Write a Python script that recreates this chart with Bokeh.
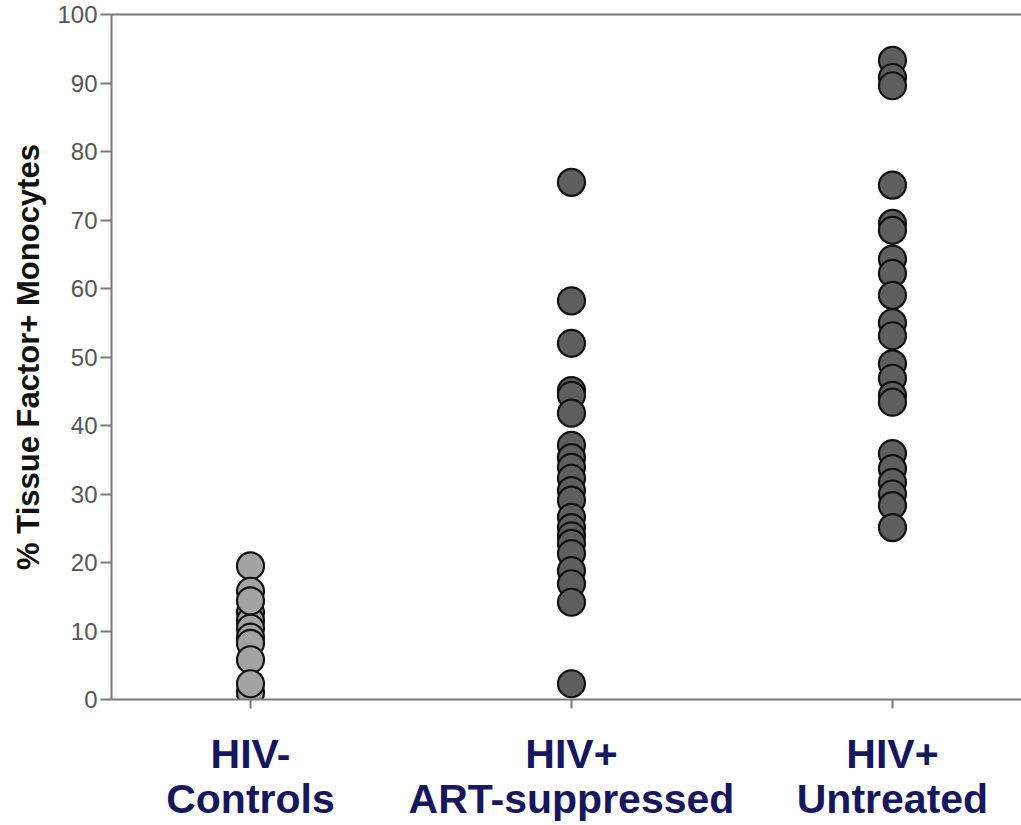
from bokeh.plotting import figure
from bokeh.models import Range1d, FixedTicker, LinearAxis, ColumnDataSource
from bokeh.embed import file_html
from bokeh.resources import INLINE

# Data
groups = ["HIV-\nControls", "HIV+\nART-suppressed", "HIV+\nUntreated"]
group_pos = [1, 2, 3]
controls = [19.5, 15.8, 12.7, 11.5, 10.4, 9.1, 8.2, 5.8, 1.0, 2.3, 14.4]
art_suppressed = [75.5, 58.2, 52.0, 45.1, 44.4, 41.8, 37.1, 35.3, 33.9, 32.3, 30.5,
                  29.1, 26.6, 25.1, 23.9, 22.8, 21.3, 18.8, 16.9, 14.2, 2.3]
untreated = [93.3, 90.8, 89.6, 75.1, 69.5, 68.5, 64.3, 62.2, 59.0, 55.0, 53.1,
             49.0, 46.9, 44.4, 43.4, 35.9, 33.7, 31.7, 30.0, 28.3, 25.1]
y_ticks = [0, 10, 20, 30, 40, 50, 60, 70, 80, 90, 100]
colors = ["#a3a3a3", "#5e5e5e", "#5e5e5e"]

p = figure(width=1021, height=825, output_backend="svg", toolbar_location=None,
           x_range=Range1d(0.567, 3.402), y_range=Range1d(0, 100),
           min_border_left=111, min_border_right=0, min_border_top=14,
           min_border_bottom=126, x_axis_type=None, y_axis_type=None)
p.grid.visible = False
p.outline_line_color = None
p.background_fill_color = "white"
p.border_fill_color = "white"

for pos, vals, col in zip(group_pos, [controls, art_suppressed, untreated], colors):
    src = ColumnDataSource(dict(x=[pos] * len(vals), y=vals))
    p.scatter("x", "y", source=src, size=27, fill_color=col,
              line_color="#111111", line_width=2.2)

axis_col = "#7a7a7a"

yaxis = LinearAxis(ticker=FixedTicker(ticks=y_ticks))
yaxis.axis_label = "% Tissue Factor+ Monocytes"
yaxis.axis_label_text_font = "Liberation Sans"
yaxis.axis_label_text_font_style = "bold"
yaxis.axis_label_text_font_size = "31px"
yaxis.axis_label_text_color = "#111111"
yaxis.axis_label_standoff = 8
yaxis.major_label_text_font = "Liberation Sans"
yaxis.major_label_text_font_size = "24px"
yaxis.major_label_text_color = "#555555"
yaxis.major_label_standoff = 3
yaxis.axis_line_color = axis_col
yaxis.axis_line_width = 2
yaxis.major_tick_line_color = axis_col
yaxis.major_tick_line_width = 2
yaxis.major_tick_out = 11
yaxis.major_tick_in = 0
yaxis.minor_tick_line_color = None
p.add_layout(yaxis, "left")

xaxis = LinearAxis(ticker=FixedTicker(ticks=group_pos))
xaxis.major_label_overrides = {k: g for k, g in zip(group_pos, groups)}
xaxis.major_label_text_font = "Liberation Sans"
xaxis.major_label_text_font_style = "bold"
xaxis.major_label_text_font_size = "41px"
xaxis.major_label_text_color = "#17175e"
xaxis.major_label_text_line_height = 0.98
xaxis.major_label_standoff = 22
xaxis.axis_line_color = axis_col
xaxis.axis_line_width = 2
xaxis.major_tick_line_color = axis_col
xaxis.major_tick_line_width = 2
xaxis.major_tick_out = 9
xaxis.major_tick_in = 0
xaxis.minor_tick_line_color = None
p.add_layout(xaxis, "below")

top = LinearAxis(ticker=FixedTicker(ticks=[]))
top.axis_line_color = axis_col
top.axis_line_width = 2
top.major_tick_line_color = None
top.minor_tick_line_color = None
top.major_label_text_font_size = "0px"
p.add_layout(top, "above")

open("out.html", "w").write(file_html(p, INLINE))
